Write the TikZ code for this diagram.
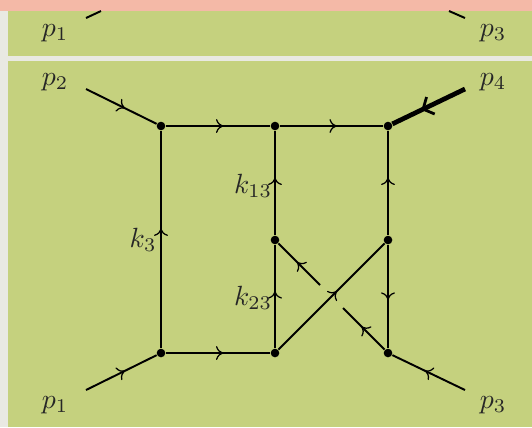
\documentclass[tikz,border=0pt]{standalone}
\usepackage{amsmath}
\usepackage{xcolor}
\usetikzlibrary{calc, arrows.meta, decorations.markings}

\definecolor{pagegrey}{HTML}{E9E9E2}
\definecolor{bandpink}{HTML}{F4B9A7}
\definecolor{boxgreen}{HTML}{C5D17E}

\tikzset{
	vertex/.style={circle, fill=black, inner sep=0pt, minimum size=3.1pt},
	leg/.style={line width=0.7pt},
	heavyleg/.style={line width=1.7pt},
	flow/.style={postaction={decorate}, decoration={markings, mark=at position #1 with {\arrow{Computer Modern Rightarrow[length=2.6pt, width=5pt, line width=0.45pt]}}}},
	flow/.default=0.55,
	heavyflow/.style={postaction={decorate}, decoration={markings, mark=at position 0.6 with {\arrow{Straight Barb[length=3pt, width=6.8pt, line width=1pt]}}}},
	lbl/.style={text=black!85, inner sep=0pt}
}

\begin{document}
\begin{tikzpicture}[x=0.36pt, y=-0.36pt]
	% backdrop
	\useasboundingbox (0,0) rectangle (532,427);
	\fill[pagegrey] (0,0) rectangle (532,427);
	\fill[boxgreen] (8,11) rectangle (532,56);
	\fill[boxgreen] (8,61) rectangle (532,427);
	\fill[bandpink] (0,0) rectangle (532,11);

	% vertices
	\node[vertex] (tl) at (161,126) {};
	\node[vertex] (tm) at (275,126) {};
	\node[vertex] (tr) at (388,126) {};
	\node[vertex] (ml) at (275,240) {};
	\node[vertex] (mr) at (388,240) {};
	\node[vertex] (bl) at (161,353) {};
	\node[vertex] (bm) at (275,353) {};
	\node[vertex] (br) at (388,353) {};

	% free ends
	\coordinate (p2end) at (86,89);
	\coordinate (p4end) at (465,89);
	\coordinate (p1end) at (86,390);
	\coordinate (p3end) at (465,390);
	\coordinate (gapa) at (320,285);
	\coordinate (gapb) at (343,308);
	\coordinate (cuta) at (86,18);
	\coordinate (cutb) at (101,11);
	\coordinate (cutc) at (465,18);
	\coordinate (cutd) at (449,11);

	% legs
	\draw[leg] (cuta) -- (cutb);
	\draw[leg] (cutc) -- (cutd);
	\draw[leg, flow] (p2end) -- (tl);
	\draw[leg, flow] (p1end) -- (bl);
	\draw[leg, flow] (p3end) -- (br);
	\draw[heavyleg, heavyflow] (p4end) -- (tr);

	% box
	\draw[leg, flow] (tl) -- (tm);
	\draw[leg, flow] (tm) -- (tr);
	\draw[leg, flow] (bl) -- (bm);
	\draw[leg, flow=0.55] (bl) -- (tl);
	\draw[leg, flow] (ml) -- (tm);
	\draw[leg, flow] (bm) -- (ml);
	\draw[leg, flow] (mr) -- (tr);
	\draw[leg, flow=0.53] (mr) -- (br);

	% crossing
	\draw[leg, flow=0.55] (bm) -- (mr);
	\draw[leg, flow] (gapa) -- (ml);
	\draw[leg, flow] (br) -- (gapb);

	% labels
	\node[lbl] (p1top) at (55,33) {$p_1$};
	\node[lbl] (p3top) at (493,33) {$p_3$};
	\node[lbl] (p2) at (55,82) {$p_2$};
	\node[lbl] (p4) at (493,82) {$p_4$};
	\node[lbl] (p1) at (55,405) {$p_1$};
	\node[lbl] (p3) at (493,405) {$p_3$};
	\node[lbl] (k3) at (143,240) {$k_3$};
	\node[lbl] (k13) at (253,186) {$k_{13}$};
	\node[lbl] (k23) at (253,298) {$k_{23}$};
\end{tikzpicture}
\end{document}
